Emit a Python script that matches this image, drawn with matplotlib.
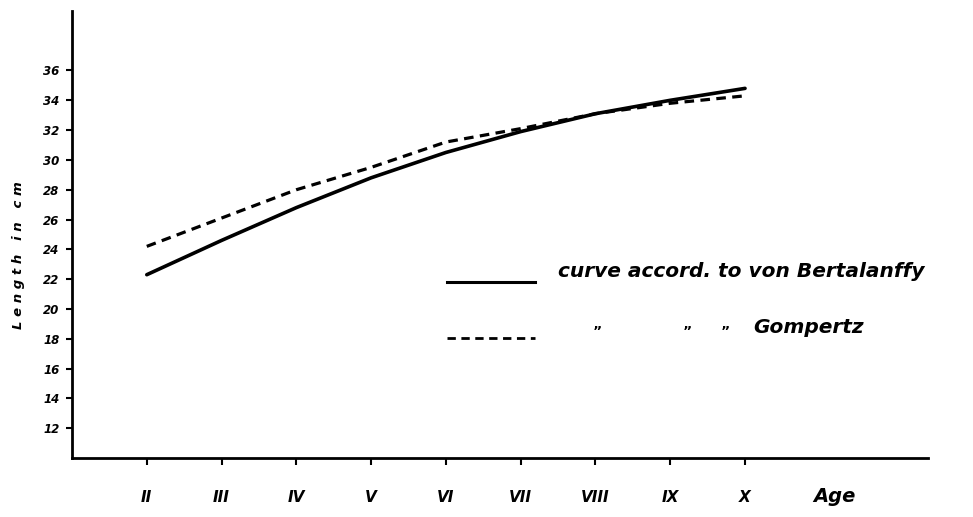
import matplotlib.pyplot as plt
from matplotlib.lines import Line2D

# Age classes (II..X) and fitted lengths in cm
ages = [2, 3, 4, 5, 6, 7, 8, 9, 10]
age_labels = ["II", "III", "IV", "V", "VI", "VII", "VIII", "IX", "X"]
bertalanffy = [22.3, 24.6, 26.8, 28.8, 30.5, 31.9, 33.1, 34.0, 34.8]
gompertz = [24.2, 26.1, 28.0, 29.5, 31.2, 32.1, 33.1, 33.8, 34.3]
length_ticks = list(range(12, 37, 2))

fig = plt.figure(figsize=(9.73, 5.17), dpi=100)
ax = fig.add_axes([0.074, 0.114, 0.880, 0.865])

ax.plot(ages, bertalanffy, color="black", lw=2.6, solid_capstyle="round",
        solid_joinstyle="round")
ax.plot(ages, gompertz, color="black", lw=2.3, linestyle=(0, (3, 2)))

ax.set_xlim(1.0, 12.45)
ax.set_ylim(10, 40)
for side in ["top", "right"]:
    ax.spines[side].set_visible(False)
for side in ["left", "bottom"]:
    ax.spines[side].set_linewidth(2.0)

ax.set_xticks(ages)
ax.set_xticklabels(age_labels, fontsize=11, fontweight="bold", style="italic")
ax.set_yticks(length_ticks)
ax.set_yticklabels([str(v) for v in length_ticks], fontsize=8.5,
                   fontweight="bold", style="italic")
ax.tick_params(axis="x", length=5, width=1.5, pad=18)
ax.tick_params(axis="y", length=4, width=1.5, pad=5)

ax.text(11.2, -0.087, "Age", transform=ax.get_xaxis_transform(),
        fontsize=14, fontweight="bold", style="italic",
        ha="center", va="center")
fig.text(0.019, 0.507, "L e n g t h   i n   c m", rotation=90,
         fontsize=9.5, fontweight="bold", style="italic",
         ha="center", va="center")

# hand-made key
fig.add_artist(Line2D([0.459, 0.550], [0.455, 0.455], color="black", lw=2.2))
fig.add_artist(Line2D([0.459, 0.550], [0.346, 0.346], color="black", lw=2.0,
                      linestyle=(0, (3, 2))))
fig.text(0.573, 0.474, "curve accord. to von Bertalanffy", fontsize=14.5,
         style="italic", fontweight="bold", ha="left", va="center")
for xf, mark in [(0.614, "\u201d"), (0.706, "\u201d"), (0.745, "\u201d")]:
    fig.text(xf, 0.358, mark, fontsize=10, fontweight="bold",
             ha="center", va="center")
fig.text(0.774, 0.366, "Gompertz", fontsize=14.5, style="italic",
         fontweight="bold", ha="left", va="center")

fig.savefig("out.png", dpi=100)
